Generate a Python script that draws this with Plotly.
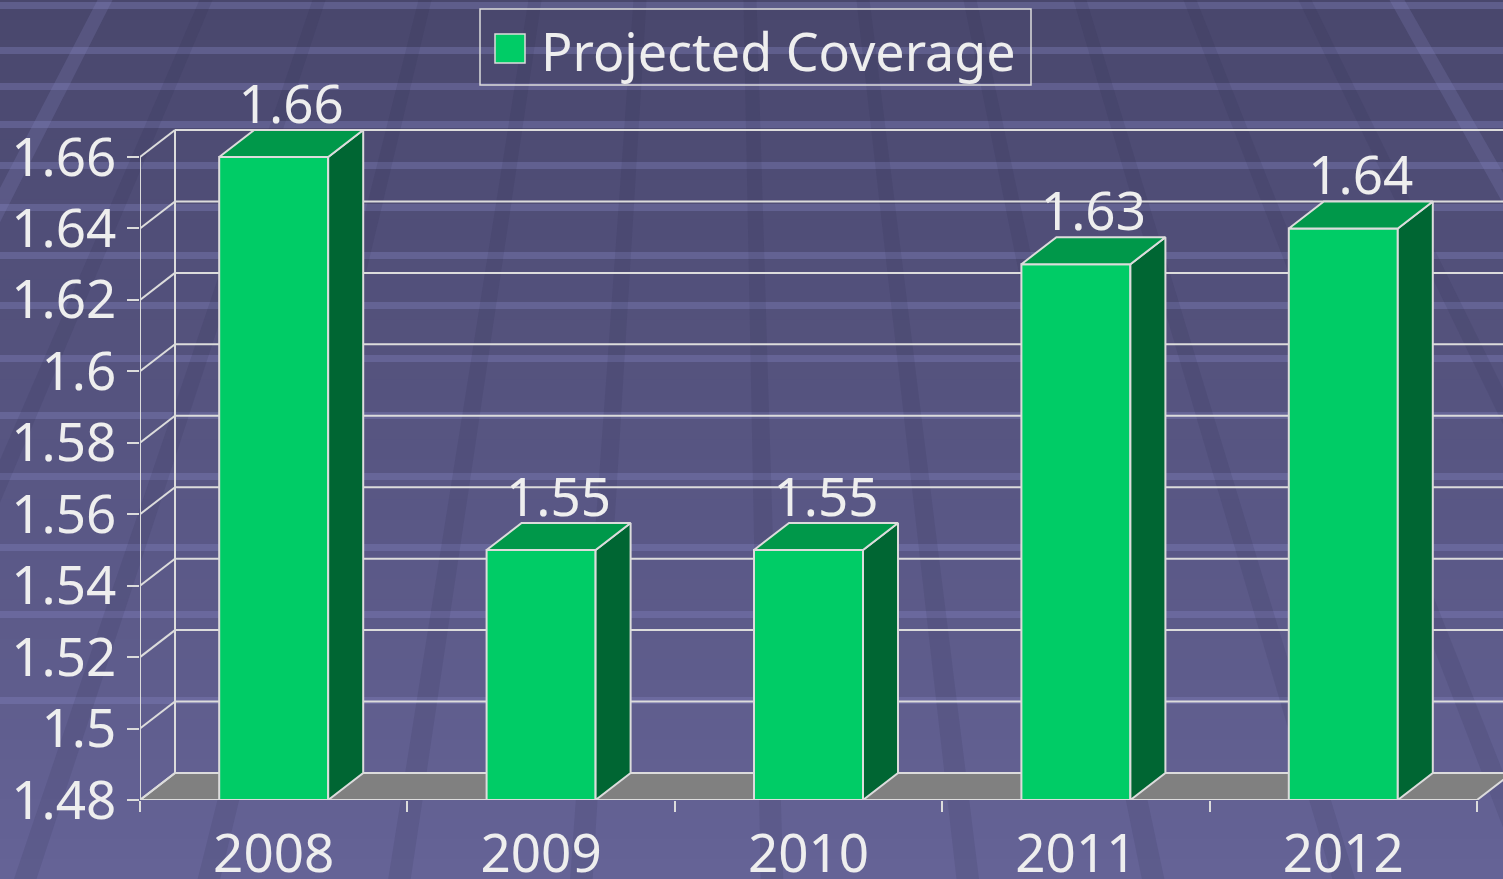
import plotly.graph_objects as go

# ---------------- data ----------------
years = ["2008", "2009", "2010", "2011", "2012"]
coverage = [1.66, 1.55, 1.55, 1.63, 1.64]
value_labels = ["1.66", "1.55", "1.55", "1.63", "1.64"]
y_ticks = [1.48, 1.50, 1.52, 1.54, 1.56, 1.58, 1.60, 1.62, 1.64, 1.66]
y_tick_labels = ["1.48", "1.5", "1.52", "1.54", "1.56", "1.58", "1.6", "1.62", "1.64", "1.66"]
series_name = "Projected Coverage"

# ---------------- geometry / style ----------------
FIG_W, FIG_H = 1503, 879
M_L, M_R, M_T, M_B = 140, 0, 0, 79
PLOT_W = FIG_W - M_L - M_R
PLOT_H = FIG_H - M_T - M_B
CAT_PX = 267.4                      # pixels per category
Y_MIN, Y_MAX_TICK = y_ticks[0], y_ticks[-1]
Y_PX = 643.0 / (Y_MAX_TICK - Y_MIN)  # pixels per unit
X_LO = -0.5
X_HI = X_LO + PLOT_W / CAT_PX
Y_HI = Y_MIN + PLOT_H / Y_PX
X_END = X_LO + len(years)           # end of category axis
DX = 35 / CAT_PX                    # depth offset in x units
DY = 27 / Y_PX                      # depth offset in y units
LABEL_DROP = 6 / Y_PX               # value label slightly closer to bar top
BAR_W = 109 / CAT_PX

FRONT = "#00cc66"
TOP = "#00984a"
SIDE = "#006633"
EDGE = "#dcdcdc"
TXT = "#eeeeee"
FONT = "Noto Sans"
TICK_SIZE = 53

xs = list(range(len(years)))


def px2paper(px, py):
    return (px - M_L) / PLOT_W, (FIG_H - M_B - py) / PLOT_H


shapes = []

# ---- background gradient (decoration) ----
top_c = (73, 71, 109)
bot_c = (101, 99, 150)
N = 44
for k in range(N):
    y0p, y1p = k * FIG_H / N, (k + 1) * FIG_H / N + 1
    f = (k + 0.5) / N
    c = tuple(int(round(top_c[j] + (bot_c[j] - top_c[j]) * f)) for j in range(3))
    _, ya = px2paper(0, y0p)
    _, yb = px2paper(0, y1p)
    xa, _ = px2paper(0, 0)
    xb, _ = px2paper(FIG_W, 0)
    shapes.append(dict(type="rect", xref="paper", yref="paper", x0=xa, x1=xb, y0=yb, y1=ya,
                       fillcolor="rgb(%d,%d,%d)" % c, line=dict(width=0), layer="below"))

# horizontal light stripes
for sy in [5, 50, 86, 124, 165, 207, 255, 305, 358, 415, 476, 547, 614, 700]:
    xa, ya = px2paper(0, sy - 3)
    xb, yb = px2paper(FIG_W, sy + 4)
    shapes.append(dict(type="rect", xref="paper", yref="paper", x0=xa, x1=xb, y0=yb, y1=ya,
                       fillcolor="rgba(130,130,190,0.38)", line=dict(width=0), layer="below"))

# diagonal perspective streaks
VX, VD = 720.0, 1200.0


def streak(x0, w0, color):
    pts = []
    for (yy, side) in [(0, -1), (0, 1), (FIG_H, 1), (FIG_H, -1)]:
        scale = (yy + VD) / VD
        cx = VX + (x0 - VX) * scale
        pts.append(px2paper(cx + side * w0 / 2 * scale, yy))
    path = "M " + " L ".join("%f,%f" % p for p in pts) + " Z"
    shapes.append(dict(type="path", xref="paper", yref="paper", path=path,
                       fillcolor=color, line=dict(width=0), layer="below"))


for x0 in [206, 319, 425, 535, 640, 750, 863, 970, 1080, 1190, 1305]:
    streak(x0, 13, "rgba(40,40,70,0.12)")
for x0 in [105, 1397]:
    streak(x0, 15, "rgba(140,140,200,0.20)")

# ---- 3D frame: floor, walls, gridlines (data coordinates) ----
floor_path = "M %f,%f L %f,%f L %f,%f L %f,%f Z" % (
    X_LO, Y_MIN, X_END, Y_MIN, X_END + DX, Y_MIN + DY, X_LO + DX, Y_MIN + DY)
shapes.append(dict(type="path", xref="x", yref="y", path=floor_path, fillcolor="#808080",
                   line=dict(color=EDGE, width=2), layer="below"))
for t in y_ticks:
    shapes.append(dict(type="line", xref="x", yref="y", x0=X_LO + DX, x1=X_END + DX,
                       y0=t + DY, y1=t + DY, line=dict(color=EDGE, width=2), layer="below"))
    shapes.append(dict(type="line", xref="x", yref="y", x0=X_LO, x1=X_LO + DX,
                       y0=t, y1=t + DY, line=dict(color=EDGE, width=2), layer="below"))
shapes.append(dict(type="line", xref="x", yref="y", x0=X_LO + DX, x1=X_LO + DX,
                   y0=Y_MIN + DY, y1=Y_MAX_TICK + DY, line=dict(color=EDGE, width=2), layer="below"))
shapes.append(dict(type="line", xref="x", yref="y", x0=X_LO, x1=X_LO,
                   y0=Y_MIN, y1=Y_MAX_TICK, line=dict(color=EDGE, width=2), layer="below"))

# ---- manual legend box ----
lx0, ly0 = px2paper(480, 9)
lx1, ly1 = px2paper(1031, 85)
shapes.append(dict(type="rect", xref="paper", yref="paper", x0=lx0, x1=lx1, y0=ly1, y1=ly0,
                   line=dict(color=EDGE, width=1.5), fillcolor="rgba(0,0,0,0)"))
sx0, sy0 = px2paper(495, 34)
sx1, sy1 = px2paper(525, 63)
shapes.append(dict(type="rect", xref="paper", yref="paper", x0=sx0, x1=sx1, y0=sy1, y1=sy0,
                   line=dict(color=EDGE, width=1.5), fillcolor=FRONT))
tx, ty = px2paper(539, 50)

fig = go.Figure()

# front faces
fig.add_trace(go.Bar(
    x=xs, y=[v - Y_MIN for v in coverage], base=[Y_MIN] * len(xs), width=BAR_W,
    marker=dict(color=FRONT, line=dict(color=EDGE, width=2)),
    name=series_name, showlegend=False, hoverinfo="skip"))

# side and top faces
side_x, side_y, top_x, top_y = [], [], [], []
for i, v in zip(xs, coverage):
    r = i + BAR_W / 2
    l = i - BAR_W / 2
    side_x += [r, r + DX, r + DX, r, r, None]
    side_y += [Y_MIN, Y_MIN + DY, v + DY, v, Y_MIN, None]
    top_x += [l, r, r + DX, l + DX, l, None]
    top_y += [v, v, v + DY, v + DY, v, None]

fig.add_trace(go.Scatter(x=side_x, y=side_y, mode="lines", fill="toself", fillcolor=SIDE,
                         line=dict(color=EDGE, width=2), showlegend=False, hoverinfo="skip"))
fig.add_trace(go.Scatter(x=top_x, y=top_y, mode="lines", fill="toself", fillcolor=TOP,
                         line=dict(color=EDGE, width=2), showlegend=False, hoverinfo="skip"))

# value labels
fig.add_trace(go.Scatter(
    x=[i + DX / 2 for i in xs], y=[v + DY - LABEL_DROP for v in coverage], mode="text",
    text=value_labels, textposition="top center",
    textfont=dict(family=FONT, size=TICK_SIZE, color=TXT),
    showlegend=False, hoverinfo="skip", cliponaxis=False))

fig.update_layout(
    width=FIG_W, height=FIG_H,
    margin=dict(l=M_L, r=M_R, t=M_T, b=M_B, pad=0, autoexpand=False),
    paper_bgcolor="#5a5888", plot_bgcolor="rgba(0,0,0,0)",
    showlegend=False,
    shapes=shapes,
    font=dict(family=FONT, color=TXT),
    annotations=[dict(xref="paper", yref="paper", x=tx, y=ty, xanchor="left", yanchor="middle",
                      text=series_name, showarrow=False,
                      font=dict(family=FONT, size=52, color=TXT))],
    xaxis=dict(range=[X_LO, X_HI], showgrid=False, zeroline=False, showline=False,
               automargin=False,
               tickmode="array", tickvals=xs, ticktext=years, ticks="",
               tickfont=dict(family=FONT, size=TICK_SIZE, color=TXT), ticklabelstandoff=18,
               minor=dict(tickmode="array", tickvals=[X_LO + k for k in range(len(years) + 1)],
                          ticks="outside", ticklen=11, tickwidth=2, tickcolor=EDGE),
               fixedrange=True),
    yaxis=dict(range=[Y_MIN, Y_HI], showgrid=False, zeroline=False, showline=False,
               automargin=False,
               tickmode="array", tickvals=y_ticks, ticktext=y_tick_labels,
               ticks="outside", ticklen=12, tickwidth=2, tickcolor=EDGE,
               tickfont=dict(family=FONT, size=TICK_SIZE, color=TXT), ticklabelstandoff=0,
               fixedrange=True),
)

fig.write_html("out.html", config={"displayModeBar": False},
               post_script="document.body.style.margin='0px';document.body.style.overflow='hidden';")
